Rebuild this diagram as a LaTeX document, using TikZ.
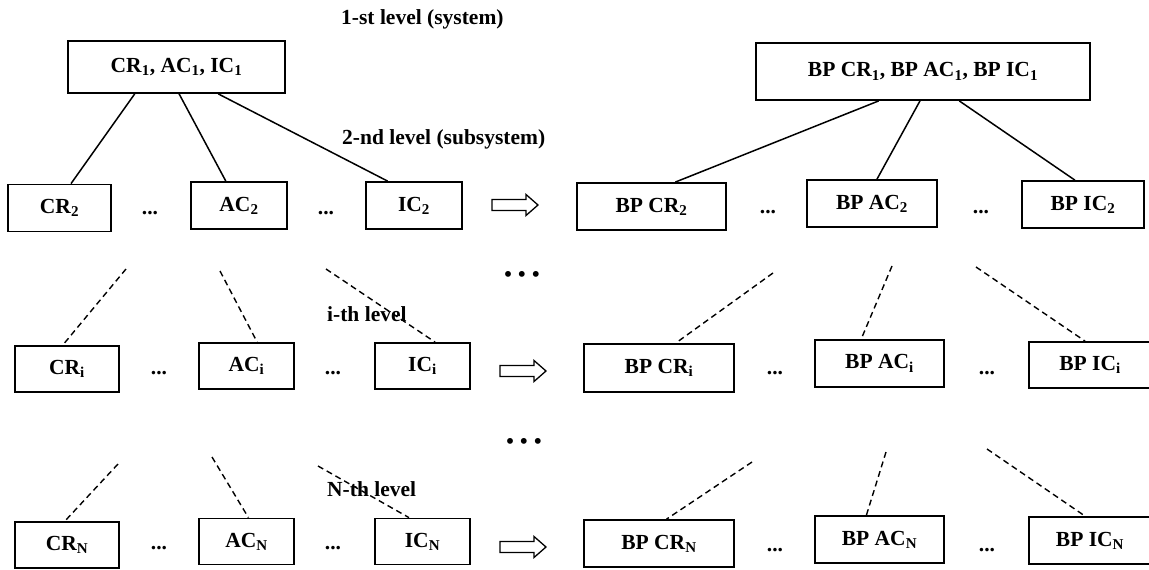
\documentclass[tikz,border=0pt]{standalone}
\usepackage{fontspec}
\setmainfont{Liberation Serif}
\usetikzlibrary{calc}
\begin{document}
\begin{tikzpicture}[x=1pt,y=-1pt,
  box/.style={draw, line width=1.8pt, inner sep=0pt, font=\fontsize{21.5}{24}\selectfont\bfseries},
  lbl/.style={inner sep=0pt, font=\fontsize{21.5}{24}\selectfont\bfseries},
  dts/.style={inner sep=0pt, font=\fontsize{21.5}{24}\selectfont\bfseries},
  solidline/.style={line width=1.5pt},
  dashline/.style={line width=1.4pt, dash pattern=on 6pt off 4pt},
  hollowarrow/.pic={\draw[line width=1.3pt] (0,-5.5) -- (34,-5.5) -- (34,-10.5) -- (46,0) -- (34,10.5) -- (34,5.5) -- (0,5.5) -- cycle;}]
\useasboundingbox (0,0) rectangle (1149,570);

% labels
\node[lbl, anchor=west] (l1) at (341,19) {1-st level (system)};
\node[lbl, anchor=west] (l2) at (342,139) {2-nd level (subsystem)};
\node[lbl, anchor=west] (li) at (327,314) {i-th level};
\node[lbl, anchor=west] (ln) at (327,489) {N-th level};

% top boxes
\node[box, minimum width=217, minimum height=52] (t1) at (176.5,67) {CR\textsubscript{1}, AC\textsubscript{1}, IC\textsubscript{1}};
\node[box, minimum width=334, minimum height=57] (bt1) at (923,71.5) {BP CR\textsubscript{1}, BP AC\textsubscript{1}, BP IC\textsubscript{1}};

% row 2
\node[box, minimum width=103, minimum height=47] (cr2) at (59.5,208) {CR\textsubscript{2}};
\node[box, minimum width=96, minimum height=47] (ac2) at (239,205.5) {AC\textsubscript{2}};
\node[box, minimum width=96, minimum height=47] (ic2) at (414,205.5) {IC\textsubscript{2}};
\node[box, minimum width=149, minimum height=47] (bcr2) at (651.5,206.5) {BP CR\textsubscript{2}};
\node[box, minimum width=130, minimum height=47] (bac2) at (872,203.5) {BP AC\textsubscript{2}};
\node[box, minimum width=122, minimum height=47] (bic2) at (1083,204.5) {BP IC\textsubscript{2}};

% row i
\node[box, minimum width=104, minimum height=46] (cri) at (67,369) {CR\textsubscript{i}};
\node[box, minimum width=95, minimum height=46] (aci) at (246.5,366) {AC\textsubscript{i}};
\node[box, minimum width=95, minimum height=46] (ici) at (422.5,366) {IC\textsubscript{i}};
\node[box, minimum width=150, minimum height=48] (bcri) at (659,368) {BP CR\textsubscript{i}};
\node[box, minimum width=129, minimum height=47] (baci) at (879.5,363.5) {BP AC\textsubscript{i}};
\node[box, minimum width=122, minimum height=46] (bici) at (1090,365) {BP IC\textsubscript{i}};

% row N
\node[box, minimum width=104, minimum height=46] (crn) at (67,545) {CR\textsubscript{N}};
\node[box, minimum width=95, minimum height=46] (acn) at (246.5,541.5) {AC\textsubscript{N}};
\node[box, minimum width=95, minimum height=46] (icn) at (422.5,541.5) {IC\textsubscript{N}};
\node[box, minimum width=150, minimum height=47] (bcrn) at (659,543.5) {BP CR\textsubscript{N}};
\node[box, minimum width=129, minimum height=47] (bacn) at (879.5,539.5) {BP AC\textsubscript{N}};
\node[box, minimum width=122, minimum height=47] (bicn) at (1090,540.5) {BP IC\textsubscript{N}};

% small ellipses
\node[dts] (d2a) at (150,213) {...};
\node[dts] (d2b) at (326,213) {...};
\node[dts] (d2c) at (768,212) {...};
\node[dts] (d2d) at (981,212) {...};
\node[dts] (dia) at (159,373) {...};
\node[dts] (dib) at (333,373) {...};
\node[dts] (dic) at (775,373) {...};
\node[dts] (did) at (987,373) {...};
\node[dts] (dna) at (159,548) {...};
\node[dts] (dnb) at (333,548) {...};
\node[dts] (dnc) at (775,550) {...};
\node[dts] (dnd) at (987,550) {...};

% big bullets
\node[dts] (bb1) at (522,276) {•\hspace{0.3em}•\hspace{0.3em}•};
\node[dts] (bb2) at (524,443) {•\hspace{0.3em}•\hspace{0.3em}•};

% hollow arrows
\pic at (492,205) {hollowarrow};
\pic at (500,371) {hollowarrow};
\pic at (500,547) {hollowarrow};

% solid connectors, left tree
\draw[solidline] ($(t1.south west)!0.309!(t1.south east)$) -- ($(cr2.north west)!0.61!(cr2.north east)$);
\draw[solidline] ($(t1.south west)!0.512!(t1.south east)$) -- ($(ac2.north west)!0.365!(ac2.north east)$);
\draw[solidline] ($(t1.south west)!0.691!(t1.south east)$) -- ($(ic2.north west)!0.23!(ic2.north east)$);
% solid connectors, right tree
\draw[solidline] ($(bt1.south west)!0.368!(bt1.south east)$) -- ($(bcr2.north west)!0.658!(bcr2.north east)$);
\draw[solidline] ($(bt1.south west)!0.491!(bt1.south east)$) -- ($(bac2.north west)!0.538!(bac2.north east)$);
\draw[solidline] ($(bt1.south west)!0.608!(bt1.south east)$) -- ($(bic2.north west)!0.434!(bic2.north east)$);

% dashed free ends
\coordinate (fcri) at (126,269);
\coordinate (faci) at (220,271);
\coordinate (fici) at (326,269);
\coordinate (fbcri) at (773,273);
\coordinate (fbaci) at (892,266);
\coordinate (fbici) at (976,267);
\coordinate (fcrn) at (118,464);
\coordinate (facn) at (212,457);
\coordinate (ficn) at (318,466);
\coordinate (fbcrn) at (752,462);
\coordinate (fbacn) at (886,452);
\coordinate (fbicn) at (987,449);

\draw[dashline] (fcri) -- ($(cri.north west)!0.46!(cri.north east)$);
\draw[dashline] (faci) -- ($(aci.north west)!0.61!(aci.north east)$);
\draw[dashline] (fici) -- ($(ici.north west)!0.63!(ici.north east)$);
\draw[dashline] (fbcri) -- ($(bcri.north west)!0.61!(bcri.north east)$);
\draw[dashline] (fbaci) -- ($(baci.north west)!0.36!(baci.north east)$);
\draw[dashline] (fbici) -- ($(bici.north west)!0.46!(bici.north east)$);
\draw[dashline] (fcrn) -- ($(crn.north west)!0.48!(crn.north east)$);
\draw[dashline] (facn) -- ($(acn.north west)!0.52!(acn.north east)$);
\draw[dashline] (ficn) -- ($(icn.north west)!0.36!(icn.north east)$);
\draw[dashline] (fbcrn) -- ($(bcrn.north west)!0.55!(bcrn.north east)$);
\draw[dashline] (fbacn) -- ($(bacn.north west)!0.40!(bacn.north east)$);
\draw[dashline] (fbicn) -- ($(bicn.north west)!0.46!(bicn.north east)$);
\end{tikzpicture}
\end{document}
